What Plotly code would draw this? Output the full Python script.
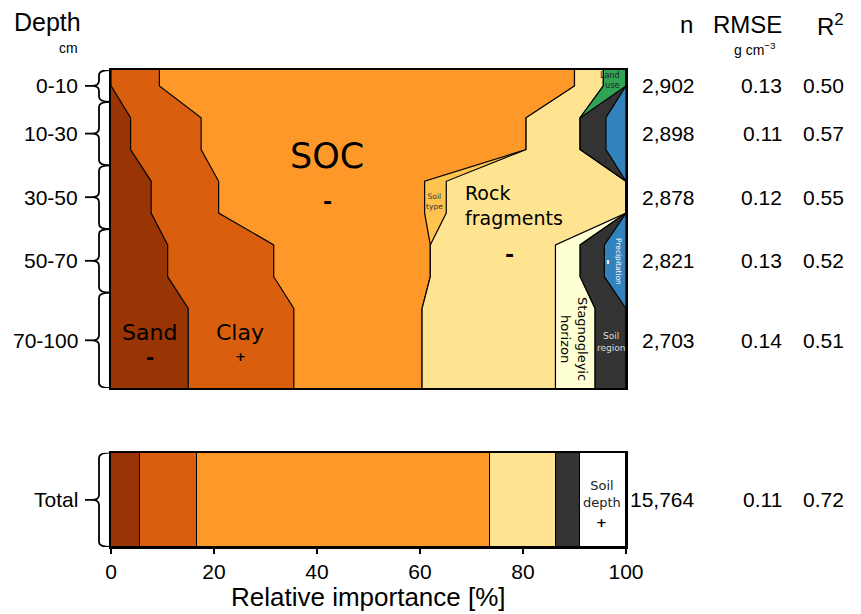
import plotly.graph_objects as go

# ---------------- data ----------------
layer_top = [0, 10, 30, 50, 70]
layer_bottom = [10, 30, 50, 70, 100]
layer_labels = ["0-10", "10-30", "30-50", "50-70", "70-100"]

sand = [0.0, 3.8, 7.8, 11.0, 15.0]
clay = [9.4, 13.7, 13.1, 20.6, 20.5]
soc = [80.6, 63.1, 40.0, 30.4, 24.9]
soil_type = [0.0, 0.0, 4.2, 0.0, 0.0]
rock = [5.6, 10.5, 34.9, 24.3, 25.9]
stagno = [0.0, 0.0, 0.0, 4.8, 7.7]
land_use = [4.4, 0.0, 0.0, 0.0, 0.0]
soil_region = [0.0, 5.0, 0.0, 4.7, 6.0]
precipitation = [0.0, 3.9, 0.0, 4.2, 0.0]

n_obs = [2902, 2898, 2878, 2821, 2703]
rmse = [0.13, 0.11, 0.12, 0.13, 0.14]
r2 = [0.50, 0.57, 0.55, 0.52, 0.51]

total_names = ["Sand", "Clay", "SOC", "Rock fragments", "Soil region", "Soil depth"]
total_values = [5.7, 11.0, 56.9, 12.9, 4.5, 9.0]
total_n = 15764
total_rmse = 0.11
total_r2 = 0.72

# ---------------- styles ----------------
COL = {
    "Sand": "#993404", "Clay": "#d95f0e", "SOC": "#fe9929", "Soil type": "#fec44f",
    "Rock fragments": "#fee391", "Stagnogleyic horizon": "#ffffd4", "Land use": "#31a354",
    "Soil region": "#333333", "Precipitation": "#3182bd", "Soil depth": "#ffffff",
}
SANS = "Liberation Sans, Arial, sans-serif"
DV = "DejaVu Sans, Verdana, sans-serif"

# plot-area frame in screen pixels (page has an 8 px body margin)
OFF = 8
L, R, T, B = 111, 626, 70, 547
W, H = R - L, B - T
def px2x(px): return (px - L) / W
def py2y(py): return (B - py) / H

# depth nodes: each layer keeps its value through its core
nodes = []
for i, (t, b) in enumerate(zip(layer_top, layer_bottom)):
    nodes += [t if i == 0 else t + 5, b if i == len(layer_top) - 1 else b - 5]
def expand(v):
    return [x for x in v for _ in range(2)]

series = [("Sand", sand), ("Clay", clay), ("SOC", soc), ("Soil type", soil_type),
          ("Rock fragments", rock), ("Stagnogleyic horizon", stagno), ("Land use", land_use),
          ("Soil region", soil_region), ("Precipitation", precipitation)]

fig = go.Figure()
for name, vals in series:
    fig.add_trace(go.Scatter(x=expand(vals), y=nodes, name=name, stackgroup="depth",
                             orientation="h", mode="lines",
                             line=dict(color="black", width=1.2), fillcolor=COL[name],
                             xaxis="x", yaxis="y", hoverinfo="skip"))

for name, v in zip(total_names, total_values):
    fig.add_trace(go.Bar(x=[v], y=[0], orientation="h", width=1, name=name,
                         marker=dict(color=COL[name], line=dict(color="black", width=1.2)),
                         xaxis="x2", yaxis="y2", hoverinfo="skip"))

top_dom = [py2y(388), 1]
bot_dom = [0, py2y(452.7)]
axis_common = dict(showgrid=False, zeroline=False, showline=True, mirror=True,
                   linecolor="black", linewidth=1.5)
fig.update_layout(
    width=861, height=614, showlegend=False,
    margin=dict(l=L - OFF, r=861 - R + OFF, t=T - OFF, b=614 - B + OFF),
    paper_bgcolor="white", plot_bgcolor="white",
    barmode="stack", bargap=0,
    xaxis=dict(domain=[0, 1], range=[0, 100], anchor="y", showticklabels=False, ticks="",
               **axis_common),
    yaxis=dict(domain=top_dom, range=[100, 0], anchor="x", showticklabels=False, ticks="",
               **axis_common),
    xaxis2=dict(domain=[0, 1], range=[0, 100], anchor="y2", tickvals=[0, 20, 40, 60, 80, 100],
                ticks="outside", ticklen=5, tickcolor="black", tickwidth=1.5,
                tickfont=dict(family=SANS, size=21, color="black"), **axis_common),
    yaxis2=dict(domain=bot_dom, range=[-0.5, 0.5], anchor="x2", showticklabels=False, ticks="",
                **axis_common),
)

ann = []
def A(text, x, y, xref="x", yref="y", size=12, family=DV, color="black",
      xanchor="center", yanchor="middle", **kw):
    ann.append(dict(text=text, x=x, y=y, xref=xref, yref=yref, showarrow=False,
                    xanchor=xanchor, yanchor=yanchor,
                    font=dict(family=family, size=size, color=color), **kw))

# in-plot labels
A("SOC", 42.0, 27.0, size=35)
A("<b>-</b>", 42.0, 41.4, size=22)
A("Rock<br>fragments", 68.3, 42.6, size=19, xanchor="left", align="left")
A("<b>-</b>", 77.3, 57.9, size=22)
A("Sand", 7.4, 82.4, size=22)
A("<b>-</b>", 7.6, 90.2, size=20)
A("Clay", 25.0, 82.4, size=22)
A("<b>+</b>", 25.2, 90.2, size=13)
A("Soil<br>type", 62.9, 41.4, size=7.5, color="#333333")
A("Land<br>use", 99.2, 3.2, size=8, color="#222222", xanchor="right", align="right")
A("Precipitation", 98.4, 60.3, size=7.5, color="white", textangle=90)
A("<b>-</b>", 96.6, 60.3, size=13, color="white", textangle=90)
A("Stagnogleyic<br>horizon", 89.9, 84.6, size=13, textangle=90)
A("Soil<br>region", 97.0, 85.5, size=9, color="#dddddd")
A("Soil<br>depth", 95.3, 0.063, xref="x2", yref="y2", size=13, color="#222222")
A("<b>+</b>", 95.3, -0.243, xref="x2", yref="y2", size=13)

# left labels and right table
for t, b, lab, n, e, r in zip(layer_top, layer_bottom, layer_labels, n_obs, rmse, r2):
    m = (t + b) / 2
    A(lab, px2x(80), m, xref="paper", size=21, family=SANS, xanchor="right")
    A(f"{n:,}", px2x(697), m, xref="paper", size=21, family=SANS, xanchor="right")
    A(f"{e:.2f}", px2x(784), m, xref="paper", size=21, family=SANS, xanchor="right")
    A(f"{r:.2f}", px2x(846), m, xref="paper", size=21, family=SANS, xanchor="right")
A("Total", px2x(80), 0, xref="paper", yref="y2", size=21, family=SANS, xanchor="right")
A(f"{total_n:,}", px2x(697), 0, xref="paper", yref="y2", size=21, family=SANS, xanchor="right")
A(f"{total_rmse:.2f}", px2x(784), 0, xref="paper", yref="y2", size=21, family=SANS, xanchor="right")
A(f"{total_r2:.2f}", px2x(846), 0, xref="paper", yref="y2", size=21, family=SANS, xanchor="right")

# headers
A("Depth", px2x(12), py2y(22), xref="paper", yref="paper", size=25, family=SANS, xanchor="left")
A("cm", px2x(80), py2y(48), xref="paper", yref="paper", size=14, family=SANS, xanchor="right")
A("n", px2x(695), py2y(24), xref="paper", yref="paper", size=24, family=SANS, xanchor="right")
A("RMSE", px2x(784), py2y(24), xref="paper", yref="paper", size=24, family=SANS, xanchor="right")
A("R<sup>2</sup>", px2x(846), py2y(25), xref="paper", yref="paper", size=24, family=SANS, xanchor="right")
A("g cm<sup>−3</sup>", px2x(755), py2y(49), xref="paper", yref="paper", size=14, family=SANS)
A("Relative importance [%]", 0.5, py2y(597), xref="paper", yref="paper", size=26, family=SANS)

fig.update_layout(annotations=ann)

# braces
shapes = []
xr, xm, xt, xk = px2x(110.5), px2x(99), px2x(92), px2x(85)
def brace(top, bot, yref, r):
    m = (top + bot) / 2
    path = (f"M {xr},{top} Q {xm},{top} {xm},{top + r} L {xm},{m - r} "
            f"Q {xm},{m} {xt},{m} Q {xm},{m} {xm},{m + r} L {xm},{bot - r} "
            f"Q {xm},{bot} {xr},{bot}")
    shapes.append(dict(type="path", path=path, xref="paper", yref=yref,
                       line=dict(color="black", width=1.8)))
    shapes.append(dict(type="line", x0=xk, x1=xt, y0=m, y1=m, xref="paper", yref=yref,
                       line=dict(color="black", width=1.8)))

for t, b in zip(layer_top, layer_bottom):
    brace(t, b, "y", 1.6)
brace(0.5, -0.5, "y2", -0.055)
fig.update_layout(shapes=shapes)

fig.write_html("out.html")
